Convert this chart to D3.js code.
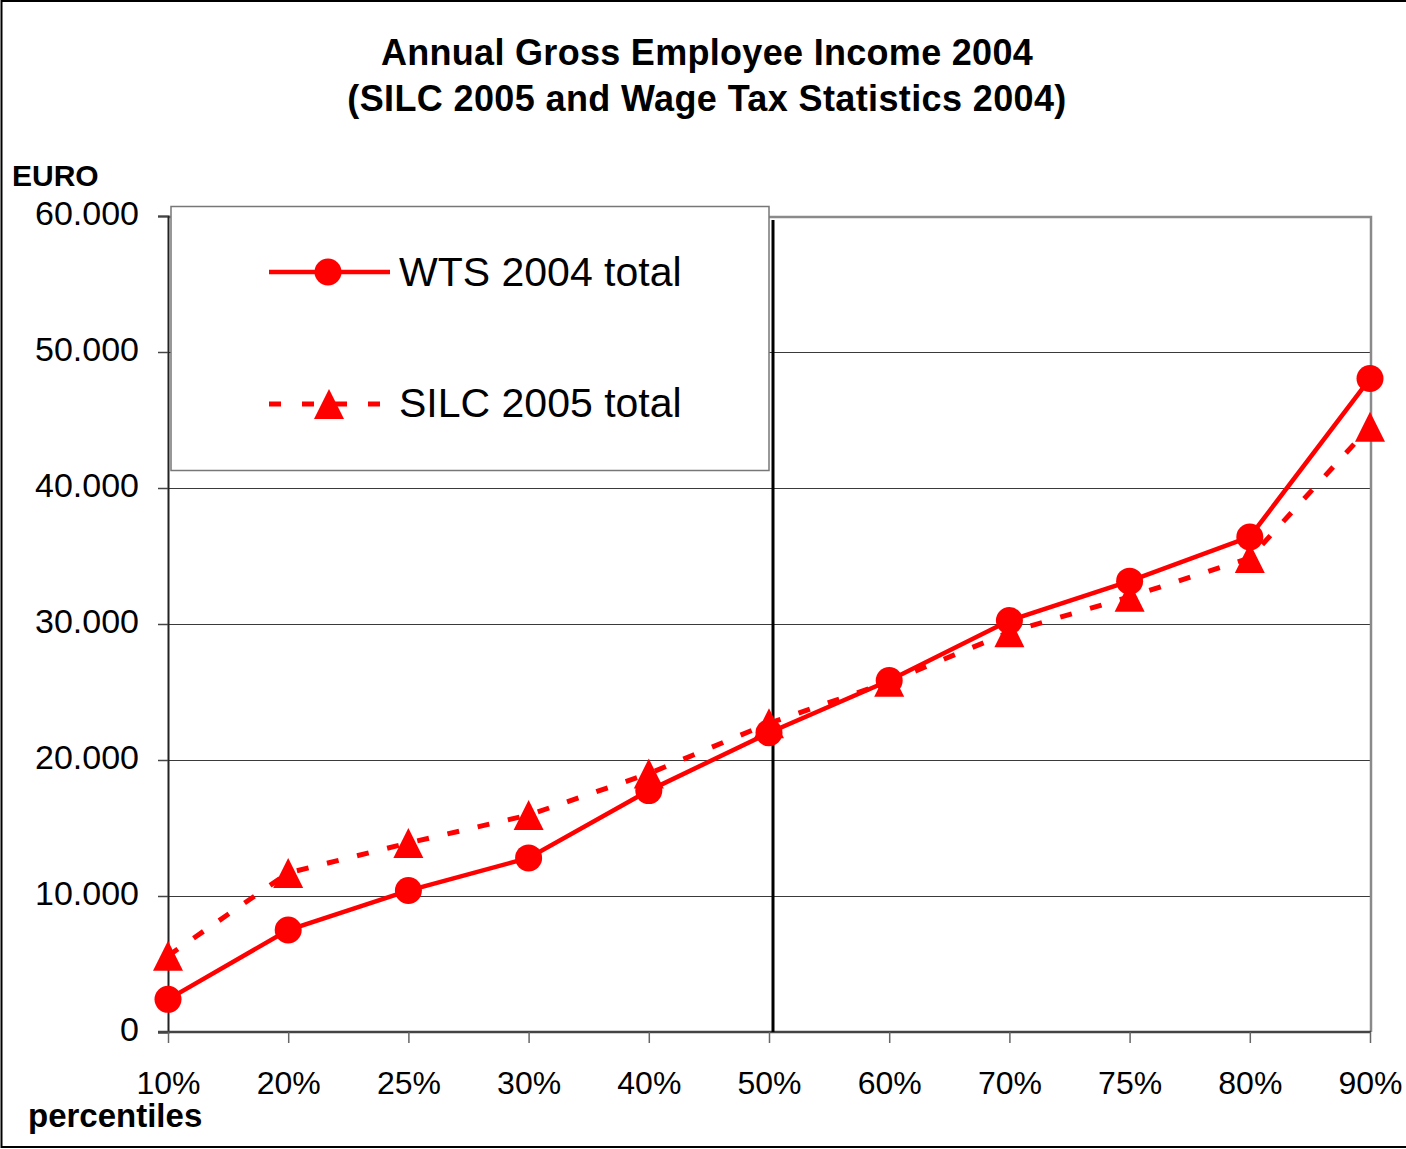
<!DOCTYPE html>
<html>
<head>
<meta charset="utf-8">
<script src="https://cdn.jsdelivr.net/npm/d3@7"></script>
<style>
  html, body { margin: 0; padding: 0; background: #fff; }
  svg { display: block; font-family: Arial, "Liberation Sans", sans-serif; }
</style>
</head>
<body>
<svg id="chart" width="1406" height="1149"></svg>
<script>
const categories = ["10%", "20%", "25%", "30%", "40%", "50%", "60%", "70%", "75%", "80%", "90%"];
const wtsValues  = [2400, 7500, 10400, 12800, 17750, 22000, 25850, 30250, 33150, 36400, 48050];
const silcValues = [5600, 11700, 13900, 15950, 19000, 22700, 25750, 29400, 32000, 34850, 44500];
const yTicks = [0, 10000, 20000, 30000, 40000, 50000, 60000];
const seriesNames = ["WTS 2004 total", "SILC 2005 total"];
const titleLines = ["Annual Gross Employee Income 2004", "(SILC 2005 and Wage Tax Statistics 2004)"];

const svg = d3.select("#chart");
const W = 1406, H = 1149;
const red = "#ff0000";

// outer frame
svg.append("rect").attr("x", 1.5).attr("y", 1).attr("width", W + 10).attr("height", H - 3)
  .attr("fill", "none").attr("stroke", "#000").attr("stroke-width", 2);

const x = d3.scalePoint().domain(categories).range([168, 1370]);
const y = d3.scaleLinear().domain([0, 60000]).range([1032, 216]);

const fmt = d3.formatLocale({decimal: ",", thousands: ".", grouping: [3], currency: ["", "€"]}).format(",d");

// gridlines
svg.append("g").selectAll("line").data(yTicks.filter(d => d > 0 && d < 60000)).join("line")
  .attr("x1", 168).attr("x2", 1371)
  .attr("y1", d => Math.round(y(d)) + 0.5).attr("y2", d => Math.round(y(d)) + 0.5)
  .attr("stroke", "#3a3a3a").attr("stroke-width", 1.2);

// plot border top/right
svg.append("path")
  .attr("d", `M168,${y(60000) + 1} H1371 V${y(0)}`)
  .attr("fill", "none").attr("stroke", "#8a8a8a").attr("stroke-width", 2.5);

// y axis
const yAxis = svg.append("g").attr("transform", "translate(168,0)")
  .call(d3.axisLeft(y).tickValues(yTicks).tickSize(10).tickPadding(19).tickFormat(fmt));
yAxis.select(".domain").attr("stroke", "#222").attr("stroke-width", 2);
yAxis.selectAll(".tick line").attr("stroke", "#444").attr("stroke-width", 1.5);
yAxis.selectAll(".tick text").attr("font-size", 34).attr("fill", "#000")
  .attr("font-family", "Arial, 'Liberation Sans', sans-serif").attr("dy", "0.24em");

// x axis
const xAxis = svg.append("g").attr("transform", `translate(0,${y(0)})`)
  .call(d3.axisBottom(x).tickSize(11).tickPadding(28));
xAxis.select(".domain").attr("stroke", "#444").attr("stroke-width", 2.5)
  .attr("d", "M158,0H1371");
xAxis.selectAll(".tick line").attr("stroke", "#666").attr("stroke-width", 1.5);
xAxis.selectAll(".tick text").attr("font-size", 32).attr("fill", "#000")
  .attr("font-family", "Arial, 'Liberation Sans', sans-serif");

// median vertical line
svg.append("line")
  .attr("x1", x("50%") + 4).attr("x2", x("50%") + 4)
  .attr("y1", 220).attr("y2", y(0))
  .attr("stroke", "#000").attr("stroke-width", 3);

// series
const line = d3.line().x((d, i) => x(categories[i])).y(d => y(d));

svg.append("path").datum(silcValues).attr("d", line)
  .attr("fill", "none").attr("stroke", red).attr("stroke-width", 5)
  .attr("stroke-dasharray", "12,19");

svg.append("path").datum(wtsValues).attr("d", line)
  .attr("fill", "none").attr("stroke", red).attr("stroke-width", 4.5);

function triPath(cx, cy, w, h) {
  return `M${cx},${cy - h / 2} L${cx + w / 2},${cy + h / 2} L${cx - w / 2},${cy + h / 2} Z`;
}

svg.append("g").selectAll("path").data(silcValues).join("path")
  .attr("d", (d, i) => triPath(x(categories[i]), y(d), 30, 30))
  .attr("fill", red);

svg.append("g").selectAll("circle").data(wtsValues).join("circle")
  .attr("cx", (d, i) => x(categories[i])).attr("cy", d => y(d)).attr("r", 13.5)
  .attr("fill", red);

// legend
const lg = svg.append("g");
lg.append("rect").attr("x", 171).attr("y", 206.5).attr("width", 598).attr("height", 264)
  .attr("fill", "#fff").attr("stroke", "#777").attr("stroke-width", 1.5);
lg.append("line").attr("x1", 269).attr("x2", 390).attr("y1", 272).attr("y2", 272)
  .attr("stroke", red).attr("stroke-width", 4.5);
lg.append("circle").attr("cx", 328).attr("cy", 272).attr("r", 13.5).attr("fill", red);
lg.append("text").attr("x", 399).attr("y", 286).attr("font-size", 41).text(seriesNames[0]);

lg.append("line").attr("x1", 269).attr("x2", 385).attr("y1", 404).attr("y2", 404)
  .attr("stroke", red).attr("stroke-width", 5).attr("stroke-dasharray", "12,21");
lg.append("path").attr("d", triPath(329, 404, 30, 30)).attr("fill", red);
lg.append("text").attr("x", 399).attr("y", 417).attr("font-size", 41).text(seriesNames[1]);

// titles
svg.append("text").attr("x", 707).attr("y", 65).attr("text-anchor", "middle")
  .attr("font-size", 36).attr("font-weight", "bold").attr("letter-spacing", 0.3).text(titleLines[0]);
svg.append("text").attr("x", 707).attr("y", 111).attr("text-anchor", "middle")
  .attr("font-size", 36).attr("font-weight", "bold").attr("letter-spacing", 0.38).text(titleLines[1]);

svg.append("text").attr("x", 12).attr("y", 186).attr("font-size", 30)
  .attr("font-weight", "bold").text("EURO");
svg.append("text").attr("x", 28).attr("y", 1127).attr("font-size", 33)
  .attr("font-weight", "bold").text("percentiles");
</script>
</body>
</html>
